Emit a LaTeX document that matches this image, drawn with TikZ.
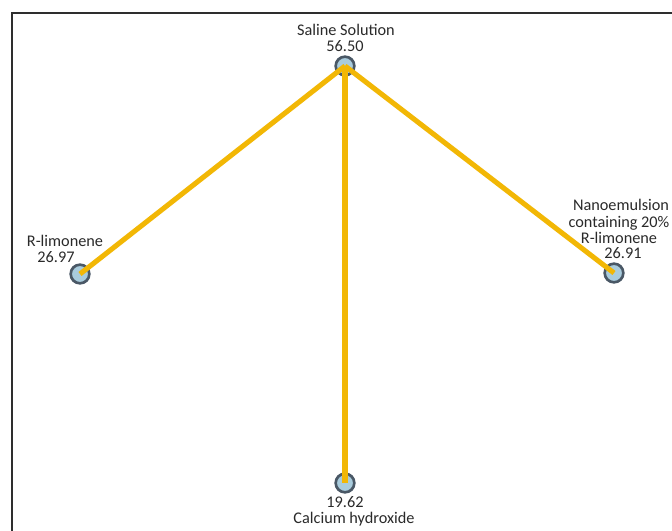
\documentclass[tikz,border=0pt]{standalone}
\usepackage{fontspec}
\setmainfont{Carlito}
\definecolor{linkcol}{HTML}{F2B705}
\definecolor{dotfill}{HTML}{A9CCDD}
\definecolor{dotline}{HTML}{4A5866}
\definecolor{txtcol}{HTML}{2A2A2A}
\definecolor{framecol}{HTML}{2E2E2E}
\begin{document}
\begin{tikzpicture}[x=0.75pt,y=-0.75pt,
  dot/.style={circle,draw=dotline,line width=2pt,fill=dotfill,minimum size=14pt,inner sep=0pt},
  lbl/.style={text=txtcol,font=\fontsize{12.2}{14}\selectfont,inner sep=0pt,align=center},
  link/.style={draw=linkcol,line width=3.8pt}]
\useasboundingbox (0,0) rectangle (672,531);
\fill[white] (0,0) rectangle (672,531);
\draw[framecol,line width=1.6pt] (12,531) -- (12,13) -- (672,13);
% nodes
\node[dot] (top) at (345,66) {};
\node[dot] (left) at (80,274) {};
\node[dot] (right) at (614,273) {};
\node[dot] (bot) at (345,483) {};
% links
\coordinate (topc) at (top.center);
\path[link] (topc) -- (left.center);
\path[link] (topc) -- (right.center);
\path[link] (topc) -- (bot.center);
% labels
\node[lbl,anchor=base] (l1) at (346,36) {Saline Solution};
\node[lbl,anchor=base] (l2) at (345,51.5) {56.50};
\node[lbl,anchor=base] (l3) at (65,247) {R-limonene};
\node[lbl,anchor=base] (l4) at (56,262.5) {26.97};
\node[lbl,anchor=base] (l5) at (621,211) {Nanoemulsion};
\node[lbl,anchor=base] (l6) at (619,227.5) {containing 20\%};
\node[lbl,anchor=base] (l7) at (619,243.5) {R-limonene};
\node[lbl,anchor=base] (l8) at (623,259) {26.91};
\node[lbl,anchor=base] (l9) at (345,507) {19.62};
\node[lbl,anchor=base] (l10) at (354,523.5) {Calcium hydroxide};
\end{tikzpicture}
\end{document}
